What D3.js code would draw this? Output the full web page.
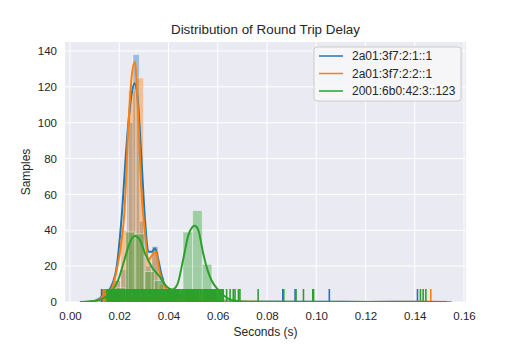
<!DOCTYPE html>
<html><head><meta charset="utf-8">
<script src="https://cdn.jsdelivr.net/npm/d3@7/dist/d3.min.js"></script>
<style>
html,body{margin:0;padding:0;background:#fff;}
text{font-family:"Liberation Sans",Arial,sans-serif;fill:#262626;}
</style></head>
<body>
<svg id="chart" width="519" height="346"></svg>
<script>
// ---------------- data ----------------
const seriesNames = ["2a01:3f7:2:1::1", "2a01:3f7:2:2::1", "2001:6b0:42:3::123"];
const seriesColors = ["#1f77b4", "#ff7f0e", "#2ca02c"];
const xTicks = [0, 0.02, 0.04, 0.06, 0.08, 0.10, 0.12, 0.14, 0.16];
const yTicks = [0, 20, 40, 60, 80, 100, 120, 140];

// histogram bins: start, width, heights (density)
const histBlueStart = 0.0103, histBlueWidth = 0.00255;
const histBlue = [2, 4, 6, 12, 18, 100, 138, 45, 20, 31, 14, 5, 3, 2, 1];
const histOrangeStart = 0.0113, histOrangeWidth = 0.0031;
const histOrange = [2, 5, 12, 40, 118, 125, 25, 28, 10, 4, 3, 2, 1];
const histGreenStart = 0.0108, histGreenWidth = 0.0039;
const histGreen = [1, 3, 8, 39, 38, 17, 12, 4, 5, 39, 51, 21, 5, 2, 1];

// KDE curves [x, density]
const kdeBlue = [[0.006,0],[0.009,0.3],[0.0115,1.5],[0.014,4.5],[0.0165,8],[0.019,20],[0.021,48],[0.023,88],[0.025,116],[0.0262,122],[0.0275,113],[0.029,80],[0.0305,45],[0.0318,28],[0.0333,28],[0.0345,30],[0.0358,24],[0.037,16],[0.0385,9],[0.0405,5],[0.043,4],[0.046,3],[0.049,1.5],[0.053,0.6],[0.06,0.2],[0.07,0.1],[0.09,0.1],[0.105,0.1],[0.12,0.05],[0.141,0.1],[0.15,0]];
const kdeOrange = [[0.007,0],[0.0105,0.5],[0.014,4],[0.0171,8],[0.019,18],[0.0207,32],[0.0221,50],[0.0237,98],[0.025,125],[0.0263,134],[0.0277,104],[0.0291,60],[0.0305,38],[0.0318,23.4],[0.0333,26],[0.0348,28],[0.0365,16],[0.0386,8.5],[0.0406,4.5],[0.0447,3],[0.0487,1.1],[0.055,0.4],[0.07,0.1],[0.1,0.05],[0.146,0.1],[0.155,0]];
const kdeGreen = [[0.004,0],[0.008,0.3],[0.012,1.2],[0.016,4.5],[0.0195,12],[0.0222,24],[0.0244,33.5],[0.0264,36.8],[0.0284,34.5],[0.0305,27],[0.0332,19.5],[0.0365,14],[0.039,9],[0.0415,7],[0.0435,9.5],[0.046,24],[0.048,37],[0.0495,41.5],[0.0506,42.5],[0.052,40.5],[0.0541,27],[0.0558,18],[0.0575,12],[0.06,7],[0.0625,3.5],[0.066,1],[0.07,0.3],[0.08,0.1],[0.153,0]];

// rug sample positions (seconds)
const rugBlue = [0.0128,0.0133,0.0139,0.0146,0.0152,0.0158,0.0190,0.0230,0.0255,0.0270,0.0300,0.0340,0.0380,0.0420,0.0864,0.0914,0.1053,0.1411];
const rugOrange = [0.0135,0.0142,0.0150,0.0160,0.0200,0.0240,0.0262,0.0290,0.0330,0.0360,0.0393,0.0440,0.1465];
const rugGreen = [0.0150,0.0155,0.0159,0.0163,0.0168,0.0172,0.0176,0.0181,0.0185,0.0189,0.0193,0.0198,0.0202,0.0206,0.0211,0.0215,0.0219,0.0223,0.0228,0.0232,0.0236,0.0241,0.0245,0.0249,0.0253,0.0258,0.0262,0.0266,0.0271,0.0275,0.0279,0.0283,0.0288,0.0292,0.0296,0.0301,0.0305,0.0309,0.0313,0.0318,0.0322,0.0326,0.0331,0.0335,0.0339,0.0343,0.0348,0.0352,0.0356,0.0361,0.0365,0.0369,0.0373,0.0378,0.0382,0.0386,0.0391,0.0395,0.0399,0.0403,0.0408,0.0412,0.0416,0.0421,0.0425,0.0429,0.0433,0.0438,0.0442,0.0446,0.0451,0.0455,0.0459,0.0463,0.0468,0.0472,0.0476,0.0481,0.0485,0.0489,0.0493,0.0498,0.0502,0.0506,0.0511,0.0515,0.0519,0.0523,0.0528,0.0532,0.0536,0.0541,0.0545,0.0549,0.0553,0.0558,0.0562,0.0566,0.0571,0.0575,0.0579,0.0583,0.0588,0.0592,0.0596,0.0601,0.0605,0.0609,0.0613,0.0618,0.0622,0.0636,0.0650,0.0663,0.0670,0.0684,0.0690,0.0764,0.0868,0.0918,0.0948,0.0986,0.0989,0.1423,0.1434,0.1445];

// ---------------- layout ----------------
const margin = {left: 65, top: 42, right: 53, bottom: 44};
const W = 519, H = 346;
const pw = W - margin.left - margin.right, ph = H - margin.top - margin.bottom;
const svg = d3.select("#chart");
const x = d3.scaleLinear().domain([-0.00203, 0.1608]).range([0, pw]);
const y = d3.scaleLinear().domain([0, 145]).range([ph, 0]);

const g = svg.append("g").attr("transform", `translate(${margin.left},${margin.top})`);
g.append("rect").attr("width", pw).attr("height", ph).attr("fill", "#eaeaf2");
svg.append("defs").append("clipPath").attr("id", "clip").append("rect").attr("width", pw).attr("height", ph);

// grid
g.append("g").selectAll("line").data(xTicks).join("line")
  .attr("x1", d => x(d)).attr("x2", d => x(d)).attr("y1", 0).attr("y2", ph)
  .attr("stroke", "#fff").attr("stroke-width", 1);
g.append("g").selectAll("line").data(yTicks).join("line")
  .attr("y1", d => y(d)).attr("y2", d => y(d)).attr("x1", 0).attr("x2", pw)
  .attr("stroke", "#fff").attr("stroke-width", 1);

// axes
const xAxis = g.append("g").attr("transform", `translate(0,${ph})`)
  .call(d3.axisBottom(x).tickValues(xTicks).tickFormat(d3.format(".2f")).tickSize(0).tickPadding(10));
const yAxis = g.append("g")
  .call(d3.axisLeft(y).tickValues(yTicks).tickFormat(d3.format("d")).tickSize(0).tickPadding(8));
[xAxis, yAxis].forEach(a => { a.select(".domain").remove(); a.selectAll("text").style("font-size", "11.5px").attr("fill", "#262626").style("font-family", '"Liberation Sans",Arial,sans-serif'); });

const plot = g.append("g").attr("clip-path", "url(#clip)");

// histograms
const hists = [[histBlueStart, histBlueWidth, histBlue], [histOrangeStart, histOrangeWidth, histOrange], [histGreenStart, histGreenWidth, histGreen]];
hists.forEach(([s, w, hs], i) => {
  plot.append("g").selectAll("rect").data(hs.map((h, k) => ({x0: s + k * w, x1: s + (k + 1) * w, h})))
    .join("rect")
    .attr("x", d => x(d.x0)).attr("width", d => x(d.x1) - x(d.x0))
    .attr("y", d => y(d.h)).attr("height", d => y(0) - y(d.h))
    .attr("fill", seriesColors[i]).attr("fill-opacity", 0.4)
    .attr("stroke", "#fff").attr("stroke-opacity", 0.4).attr("stroke-width", 1);
});

// kde + rug in order
const line = d3.line().x(d => x(d[0])).y(d => y(d[1])).curve(d3.curveMonotoneX);
const kdes = [kdeBlue, kdeOrange, kdeGreen];
const rugs = [rugBlue, rugOrange, rugGreen];
const rugH = ph * 0.05;
kdes.forEach((k, i) => {
  plot.append("path").datum(k).attr("d", line).attr("fill", "none")
    .attr("stroke", seriesColors[i]).attr("stroke-width", 2).attr("stroke-linejoin", "round");
  plot.append("g").selectAll("line").data(rugs[i]).join("line")
    .attr("x1", d => x(d)).attr("x2", d => x(d)).attr("y1", ph).attr("y2", ph - rugH)
    .attr("stroke", seriesColors[i]).attr("stroke-width", 1.6);
});

// title & labels
svg.append("text").attr("x", margin.left + pw / 2).attr("y", 34).attr("text-anchor", "middle")
  .style("font-size", "13.4px").text("Distribution of Round Trip Delay");
svg.append("text").attr("x", margin.left + pw / 2).attr("y", 336).attr("text-anchor", "middle")
  .style("font-size", "12px").text("Seconds (s)");
svg.append("text").attr("transform", `translate(30,${margin.top + ph / 2}) rotate(-90)`).attr("text-anchor", "middle")
  .style("font-size", "12px").text("Samples");

// legend
const lg = svg.append("g").attr("transform", "translate(314,47)");
lg.append("rect").attr("width", 147).attr("height", 54).attr("rx", 3)
  .attr("fill", "#f7f7fa").attr("fill-opacity", 0.9).attr("stroke", "#cccccc").attr("stroke-width", 1);
seriesNames.forEach((n, i) => {
  const yy = 9 + i * 17.5;
  lg.append("line").attr("x1", 5).attr("x2", 29).attr("y1", yy).attr("y2", yy)
    .attr("stroke", seriesColors[i]).attr("stroke-width", 1.5);
  lg.append("text").attr("x", 38).attr("y", yy + 4).style("font-size", "12px").text(n);
});
</script>
</body></html>
